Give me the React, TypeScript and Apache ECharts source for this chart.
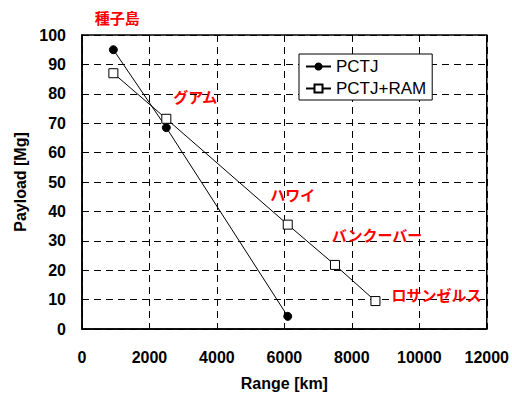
import React, { useEffect, useRef } from "react";
import * as echarts from "echarts";

// Range [km] vs payload [Mg] for each launch configuration
const pctjRange = [930, 2500, 6100];
const pctjPayload = [95, 68.5, 4.3];

const ramRange = [930, 2500, 6100, 7500, 8700];
const ramPayload = [87, 71.5, 35.5, 21.8, 9.5];

// Destination reached by each PCTJ+RAM point
const sites = ["種子島", "グアム", "ハワイ", "バンクーバー", "ロサンゼルス"];

const xTicks = { min: 0, max: 12000, interval: 2000 };
const yTicks = { min: 0, max: 100, interval: 10 };

// where each destination name sits relative to its point
const siteLabelOffsets: [number, number][] = [
  [4, -56],
  [29, -22],
  [5, -30],
  [42, -30],
  [61, -7],
];

const FONT = "'Liberation Sans', Arial, sans-serif";
const CJK = "'Noto Sans CJK JP', sans-serif";

export default function App() {
  const ref = useRef<HTMLDivElement>(null);

  useEffect(() => {
    if (!ref.current) return;
    const chart = echarts.init(ref.current, null, { renderer: "svg" });

    const dashed = {
      show: true,
      lineStyle: { color: "#000", type: [7, 5] as any, width: 1 },
    };
    const tickText = { fontFamily: FONT, fontSize: 16, fontWeight: "bold", color: "#000" };
    const nameText = { fontFamily: FONT, fontSize: 16, fontWeight: "bold", color: "#000" };

    chart.setOption({
      animation: false,
      backgroundColor: "#fff",
      grid: {
        left: 82,
        right: 23,
        top: 35,
        bottom: 64,
        show: true,
        borderColor: "#000",
        borderWidth: 1.5,
        backgroundColor: "transparent",
      },
      legend: {
        left: 299,
        top: 54,
        orient: "vertical",
        selectedMode: false,
        backgroundColor: "#fff",
        borderColor: "#000",
        borderWidth: 1,
        borderRadius: 0,
        padding: [4, 6, 3, 6],
        itemGap: 5,
        itemWidth: 25,
        itemHeight: 10,
        textStyle: { fontFamily: FONT, fontSize: 17, color: "#000" },
        data: ["PCTJ", "PCTJ+RAM"],
      },
      xAxis: {
        type: "value",
        ...xTicks,
        name: "Range [km]",
        nameLocation: "middle",
        nameGap: 46,
        nameTextStyle: nameText,
        axisLine: { show: true, lineStyle: { color: "#000", width: 1.5 } },
        axisTick: { show: false },
        axisLabel: { margin: 20, formatter: (v: number) => String(v), ...tickText },
        splitLine: dashed,
      },
      yAxis: {
        type: "value",
        ...yTicks,
        name: "Payload [Mg]",
        nameLocation: "middle",
        nameGap: 52,
        nameTextStyle: nameText,
        axisLine: { show: true, lineStyle: { color: "#000", width: 1.5 } },
        axisTick: { show: false },
        axisLabel: { margin: 16, formatter: (v: number) => String(v), ...tickText },
        splitLine: dashed,
      },
      series: [
        {
          name: "PCTJ",
          type: "line",
          data: pctjRange.map((x, i) => [x, pctjPayload[i]]),
          symbol: "circle",
          symbolSize: 8,
          itemStyle: { color: "#000", borderColor: "#000" },
          lineStyle: { color: "#000", width: 1 },
          z: 3,
        },
        {
          name: "PCTJ+RAM",
          type: "line",
          data: ramRange.map((x, i) => ({
            value: [x, ramPayload[i]],
            label: {
              show: true,
              position: "inside",
              offset: siteLabelOffsets[i],
              formatter: sites[i],
              fontFamily: CJK,
              fontSize: 15,
              fontWeight: "bold",
              color: "#ff0000",
            },
          })),
          symbol: "rect",
          symbolSize: 9,
          itemStyle: { color: "#fff", borderColor: "#000", borderWidth: 1 },
          lineStyle: { color: "#000", width: 1 },
          z: 4,
        },
      ],
    });

    return () => chart.dispose();
  }, []);

  return (
    <div
      ref={ref}
      style={{ position: "absolute", left: 0, top: 0, width: 512, height: 396 }}
    />
  );
}
